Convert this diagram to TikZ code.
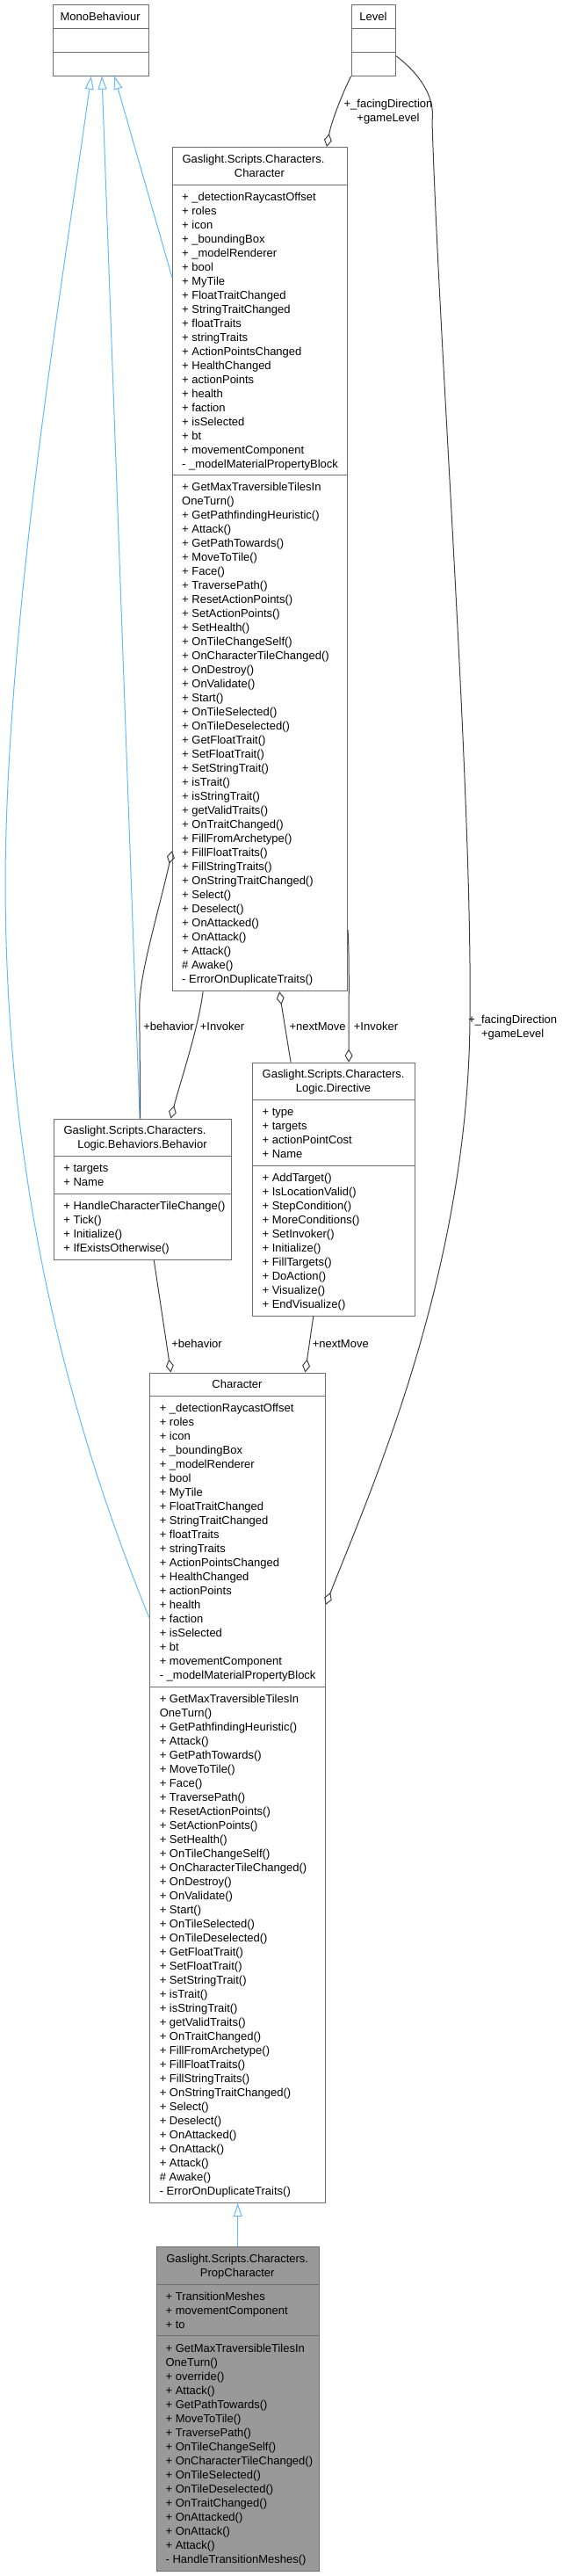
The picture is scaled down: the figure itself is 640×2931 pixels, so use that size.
\documentclass[tikz,border=0pt]{standalone}
\usepackage{fontspec}
\setmainfont{Liberation Sans}
\usepackage{xcolor}
\definecolor{inhblue}{RGB}{99,184,255}
\definecolor{relgray}{RGB}{64,64,64}
\definecolor{boxframe}{RGB}{110,110,110}
\definecolor{propfill}{RGB}{153,153,153}
\usetikzlibrary{arrows.meta,calc}
\tikzset{
  cls_box/.style={rectangle,draw=boxframe,fill=white,line width=1pt,anchor=north west,inner sep=0pt},
  cls_prop/.style={cls_box,fill=propfill},
  cls_div/.style={draw=boxframe,line width=1pt},
  cls_head/.style={align=center,anchor=base,inner sep=0pt,font=\fontsize{13}{16}\selectfont},
  cls_memb/.style={align=left,anchor=base west,inner sep=0pt,font=\fontsize{13}{16}\selectfont},
  inh_arr/.style={-{Triangle[open,length=15pt,width=10pt]},draw=inhblue,line width=1pt},
  agg_arr/.style={{Diamond[open,length=15pt,width=9pt]}-,draw=relgray,line width=1pt},
  rel_lbl/.style={align=center,anchor=base,inner sep=0pt,font=\fontsize{13}{16}\selectfont},
}
\newcommand{\chrattrs}{+ \_detectionRaycastOffset\\+ roles\\+ icon\\+ \_boundingBox\\
  + \_modelRenderer\\+ bool\\+ MyTile\\+ FloatTraitChanged\\+ StringTraitChanged\\
  + floatTraits\\+ stringTraits\\+ ActionPointsChanged\\+ HealthChanged\\+ actionPoints\\
  + health\\+ faction\\+ isSelected\\+ bt\\+ movementComponent\\- \_modelMaterialPropertyBlock}
\newcommand{\chrmeths}{+ GetMaxTraversibleTilesIn\\OneTurn()\\+ GetPathfindingHeuristic()\\
  + Attack()\\+ GetPathTowards()\\+ MoveToTile()\\+ Face()\\+ TraversePath()\\
  + ResetActionPoints()\\+ SetActionPoints()\\+ SetHealth()\\+ OnTileChangeSelf()\\
  + OnCharacterTileChanged()\\+ OnDestroy()\\+ OnValidate()\\+ Start()\\+ OnTileSelected()\\
  + OnTileDeselected()\\+ GetFloatTrait()\\+ SetFloatTrait()\\+ SetStringTrait()\\+ isTrait()\\
  + isStringTrait()\\+ getValidTraits()\\+ OnTraitChanged()\\+ FillFromArchetype()\\
  + FillFloatTraits()\\+ FillStringTraits()\\+ OnStringTraitChanged()\\+ Select()\\
  + Deselect()\\+ OnAttacked()\\+ OnAttack()\\+ Attack()\\\# Awake()\\- ErrorOnDuplicateTraits()}

\begin{document}
\begin{tikzpicture}[x=1pt,y=-1pt]
  \useasboundingbox (0,0) rectangle (640,2931);

  % class boxes (text nodes sit on the baseline of their last line)
  \node (mono) [cls_box,minimum width=109pt,minimum height=80.4pt] at (59.6,5.3) {};
  \draw[cls_div] (mono.west |- 0,32.7) -- (mono.east |- 0,32.7);
  \draw[cls_div] (mono.west |- 0,59.2) -- (mono.east |- 0,59.2);
  \node (monoH) [cls_head] at (114.1,23.6) {MonoBehaviour};

  \node (level) [cls_box,minimum width=50.6pt,minimum height=80.4pt] at (399.6,5.3) {};
  \draw[cls_div] (level.west |- 0,32.7) -- (level.east |- 0,32.7);
  \draw[cls_div] (level.west |- 0,59.2) -- (level.east |- 0,59.2);
  \node (levelH) [cls_head] at (424.9,23.6) {Level};

  \node (chartop) [cls_box,minimum width=199pt,minimum height=960.3pt] at (196,167) {};
  \draw[cls_div] (chartop.west |- 0,210.2) -- (chartop.east |- 0,210.2);
  \draw[cls_div] (chartop.west |- 0,540.8) -- (chartop.east |- 0,540.8);
  \node (chartopH) [cls_head] at (295.5,201) {Gaslight.Scripts.Characters.\kern14pt\\Character};
  \node (chartopA) [cls_memb] at (207,532) {\chrattrs};
  \node (chartopM) [cls_memb] at (207,1118.8) {\chrmeths};

  \node (behav) [cls_box,minimum width=201.7pt,minimum height=160.1pt] at (61.2,1272.6) {};
  \draw[cls_div] (behav.west |- 0,1315) -- (behav.east |- 0,1315);
  \draw[cls_div] (behav.west |- 0,1358) -- (behav.east |- 0,1358);
  \node (behavH) [cls_head] at (162,1306.8)
    {Gaslight.Scripts.Characters.\kern17pt\\Logic.Behaviors.Behavior};
  \node (behavA) [cls_memb] at (72.2,1349.2) {+ targets\\+ Name};
  \node (behavM) [cls_memb] at (72.2,1424.2)
    {+ HandleCharacterTileChange()\\+ Tick()\\+ Initialize()\\+ IfExistsOtherwise()};

  \node (directive) [cls_box,minimum width=185.2pt,minimum height=288.1pt] at (287,1208.6) {};
  \draw[cls_div] (directive.west |- 0,1251.4) -- (directive.east |- 0,1251.4);
  \draw[cls_div] (directive.west |- 0,1326.1) -- (directive.east |- 0,1326.1);
  \node (directiveH) [cls_head] at (379.6,1242.8) {Gaslight.Scripts.Characters.\\Logic.Directive};
  \node (directiveA) [cls_memb] at (298.4,1317.6) {+ type\\+ targets\\+ actionPointCost\\+ Name};
  \node (directiveM) [cls_memb] at (298.4,1488.3)
    {+ AddTarget()\\+ IsLocationValid()\\+ StepCondition()\\+ MoreConditions()\\+ SetInvoker()\\
     + Initialize()\\+ FillTargets()\\+ DoAction()\\+ Visualize()\\+ EndVisualize()};

  \node (charbot) [cls_box,minimum width=199.6pt,minimum height=944.6pt] at (170.2,1561.5) {};
  \draw[cls_div] (charbot.west |- 0,1588.6) -- (charbot.east |- 0,1588.6);
  \draw[cls_div] (charbot.west |- 0,1919.2) -- (charbot.east |- 0,1919.2);
  \node (charbotH) [cls_head] at (270,1579.8) {Character};
  \node (charbotA) [cls_memb] at (181.6,1910.8) {\chrattrs};
  \node (charbotM) [cls_memb] at (181.6,2497.4) {\chrmeths};

  \node (prop) [cls_prop,minimum width=185.3pt,minimum height=368.6pt] at (177.6,2556.3) {};
  \draw[cls_div] (prop.west |- 0,2599.2) -- (prop.east |- 0,2599.2);
  \draw[cls_div] (prop.west |- 0,2657.9) -- (prop.east |- 0,2657.9);
  \node (propH) [cls_head] at (270.2,2590.5) {Gaslight.Scripts.Characters.\\PropCharacter};
  \node (propA) [cls_memb] at (188.4,2649.2) {+ TransitionMeshes\\+ movementComponent\\+ to};
  \node (propM) [cls_memb] at (188.4,2916)
    {+ GetMaxTraversibleTilesIn\\OneTurn()\\+ override()\\+ Attack()\\+ GetPathTowards()\\
     + MoveToTile()\\+ TraversePath()\\+ OnTileChangeSelf()\\+ OnCharacterTileChanged()\\
     + OnTileSelected()\\+ OnTileDeselected()\\+ OnTraitChanged()\\+ OnAttacked()\\
     + OnAttack()\\+ Attack()\\- HandleTransitionMeshes()};

  % inheritance
  \draw[inh_arr] ([yshift=-149pt]chartop.north west) -- ([xshift=15.7pt]mono.south);
  \draw[inh_arr] ([xshift=-3.4pt]behav.north) -- ([xshift=1.4pt]mono.south);
  \draw[inh_arr] ([yshift=-280pt]charbot.north west) .. controls (80,1620) and (6,1350) .. (6,1000)
    .. controls (8,700) and (70,330) .. ([xshift=-10.8pt]mono.south);
  \draw[inh_arr] (prop.north) -- (prop.north |- charbot.south);

  % aggregation
  \draw[agg_arr] ([xshift=76pt]chartop.north) .. controls (378,135) and (392,102) .. (level.south west);
  \draw[agg_arr] ([yshift=-264.5pt]charbot.north east) .. controls (420,1700) and (533,1450) .. (535,1160)
    .. controls (538,900) and (500,400) .. (492,138) .. controls (496,108) and (475,82) .. ([yshift=-17.8pt]level.east);
  \draw[agg_arr] ([yshift=-801pt]chartop.north west) .. controls (180,1040) and (158,1110) .. (158.8,1148)
    -- ([xshift=-2.8pt]behav.north);
  \draw[agg_arr] ([xshift=32pt]behav.north) .. controls (204,1235) and (226,1170) .. ([xshift=-64.9pt]chartop.south);
  \draw[agg_arr] ([xshift=22pt]chartop.south) -- ([xshift=-49pt]directive.north);
  \draw[agg_arr] ([xshift=17pt]directive.north) .. controls (397,1140) and (398,1090) .. ([yshift=-891pt]chartop.north east);
  \draw[agg_arr] ([xshift=-76pt]charbot.north) -- ([xshift=12.7pt]behav.south);
  \draw[agg_arr] ([xshift=77pt]charbot.north) -- ([xshift=-23.3pt]directive.south);

  % role labels
  \node (lblLvlA) [rel_lbl] at (442,138.9) {+\_facingDirection\\+gameLevel};
  \node (lblLvlB) [rel_lbl] at (583.7,1180.5) {+\_facingDirection\\+gameLevel};
  \node (lblBehA) [rel_lbl] at (192,1172.5) {+behavior};
  \node (lblInvA) [rel_lbl] at (253,1172.5) {+Invoker};
  \node (lblNxtA) [rel_lbl] at (361.6,1172.5) {+nextMove};
  \node (lblInvB) [rel_lbl] at (428,1172.5) {+Invoker};
  \node (lblBehB) [rel_lbl] at (224,1533.5) {+behavior};
  \node (lblNxtB) [rel_lbl] at (387.8,1533.5) {+nextMove};
\end{tikzpicture}
\end{document}
